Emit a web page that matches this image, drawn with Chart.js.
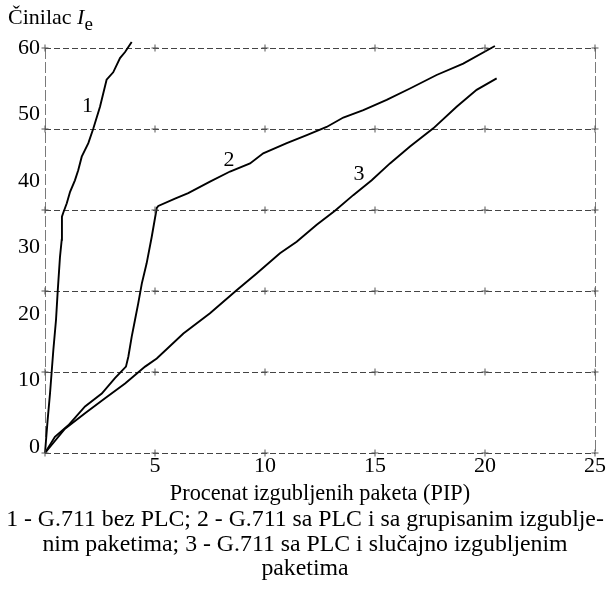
<!DOCTYPE html>
<html><head><meta charset="utf-8">
<script src="https://cdn.jsdelivr.net/npm/chart.js@4.4.1/dist/chart.umd.min.js"></script>
<style>
html,body{margin:0;padding:0;background:#fff;}
#wrap{position:relative;width:610px;height:596px;font-family:"Liberation Serif","Times New Roman",serif;color:#000;}
canvas{position:absolute;left:0;top:0;}
.t{position:absolute;font-size:22px;line-height:24px;white-space:nowrap;}
</style></head><body>
<div id="wrap">
<canvas id="c" width="610" height="596"></canvas>
<div class="t" style="left:8px;top:5px;">Činilac <i>I</i><sub style="font-size:19px;vertical-align:-6px;line-height:0">e</sub></div>
<div class="t" style="left:45px;width:550px;top:481px;text-align:center;font-size:22.3px;">Procenat izgubljenih paketa (PIP)</div>
<div class="t" style="left:0;width:610px;top:506px;text-align:center;font-size:23.8px;line-height:24.5px;">1 - G.711 bez PLC; 2 - G.711 sa PLC i sa grupisanim izgublje-<br>nim paketima; 3 - G.711 sa PLC i slučajno izgubljenim<br>paketima</div>
</div>
<script>
// Tick values
const xTicks = [0, 5, 10, 15, 20, 25];
const yTickLabels = [0, 10, 20, 30, 40, 50, 60];
const yGridValues = [0, 12, 24, 36, 48, 60];

// Curve 1 - G.711 bez PLC
const curve1X = [0, 0.12, 0.23, 0.38, 0.50, 0.58, 0.68, 0.76, 0.77, 0.83, 0.99, 1.14, 1.36, 1.51, 1.67, 1.97, 2.20, 2.50, 2.80, 3.10, 3.41, 3.64, 3.94];
const curve1Y = [0, 4.9, 8.9, 15.3, 19.7, 24.1, 29.0, 31.6, 35.0, 35.6, 37.0, 38.7, 40.4, 41.9, 43.9, 45.9, 48.1, 51.3, 55.3, 56.4, 58.5, 59.4, 60.9];

// Curve 2 - G.711 sa PLC, grupisani gubici
const curve2X = [0, 0.45, 1.06, 1.82, 2.58, 3.18, 3.68, 3.79, 3.94, 4.09, 4.24, 4.40, 4.62, 4.85, 5.08, 5.15, 5.91, 6.51, 7.50, 8.41, 9.32, 9.92, 10.99, 11.90, 12.80, 13.56, 14.47, 15.53, 16.59, 17.80, 19.01, 20.45];
const curve2Y = [0, 2.4, 4.1, 6.9, 8.8, 11.1, 12.8, 14.3, 17.2, 19.7, 22.2, 25.1, 28.1, 32.0, 36.3, 36.6, 37.7, 38.5, 40.2, 41.7, 42.9, 44.4, 45.9, 47.1, 48.3, 49.7, 50.8, 52.3, 54.0, 56.0, 57.7, 60.3];

// Curve 3 - G.711 sa PLC, slučajni gubici
const curve3X = [0, 0.91, 1.82, 2.73, 3.64, 4.55, 5.08, 6.29, 7.50, 8.71, 9.62, 10.68, 11.44, 12.35, 13.18, 14.01, 14.85, 15.68, 16.59, 17.65, 18.71, 19.62, 20.53];
const curve3Y = [0, 3.6, 5.9, 8.1, 10.3, 12.8, 14.0, 17.7, 20.7, 24.1, 26.6, 29.6, 31.3, 33.8, 35.9, 38.2, 40.4, 42.9, 45.4, 48.1, 51.3, 53.8, 55.5];

// Curve number labels
const curveLabels = ['1', '2', '3'];
const curveLabelX = [1.93, 8.36, 14.27];
const curveLabelY = [51.4, 43.4, 41.3];

const FONT = '"Liberation Serif", "Times New Roman", serif';
const toPts = (xs, ys) => xs.map((x, i) => ({x, y: ys[i]}));
const crossPts = [];
xTicks.forEach(x => yGridValues.forEach(y => crossPts.push({x, y})));

const curveStyle = {showLine: true, borderColor: '#000', borderWidth: 1.9, pointRadius: 0, tension: 0, clip: false, yAxisID: 'y'};

const labelPlugin = {
  id: 'curveLabels',
  afterDatasetsDraw(chart) {
    const {ctx, scales: {x, y}} = chart;
    ctx.save();
    ctx.font = '22px ' + FONT;
    ctx.fillStyle = '#000';
    ctx.textAlign = 'center';
    ctx.textBaseline = 'middle';
    curveLabels.forEach((t, i) => ctx.fillText(t, x.getPixelForValue(curveLabelX[i]), y.getPixelForValue(curveLabelY[i])));
    ctx.restore();
  }
};

new Chart(document.getElementById('c'), {
  type: 'scatter',
  data: {
    datasets: [
      {data: crossPts, pointStyle: 'cross', pointRadius: 3.5, borderColor: '#555', borderWidth: 1, showLine: false, clip: false, yAxisID: 'y'},
      Object.assign({data: toPts(curve1X, curve1Y)}, curveStyle),
      Object.assign({data: toPts(curve2X, curve2Y)}, curveStyle),
      Object.assign({data: toPts(curve3X, curve3Y)}, curveStyle)
    ]
  },
  options: {
    responsive: false,
    animation: false,
    events: [],
    layout: {padding: {top: 48, left: 0, right: 0, bottom: 0}},
    plugins: {legend: {display: false}, tooltip: {enabled: false}},
    scales: {
      x: {
        type: 'linear', min: 0, max: 25, position: 'bottom',
        afterBuildTicks: s => { s.ticks = xTicks.map(v => ({value: v})); },
        afterFit: s => { s.height = 143; },
        grid: {drawTicks: false, lineWidth: 1,
          color: c => (c.tick && (c.tick.value === 0 || c.tick.value === 25)) ? '#7a7a7a' : 'rgba(0,0,0,0)'},
        border: {display: false, dash: [11, 3]},
        ticks: {padding: 0, color: '#000', font: {family: FONT, size: 22}, maxRotation: 0, autoSkip: false,
          callback: v => v === 0 ? '' : String(v)}
      },
      y: {
        type: 'linear', min: 0, max: 60, position: 'right',
        afterBuildTicks: s => { s.ticks = yGridValues.map(v => ({value: v})); },
        afterFit: s => { s.width = 15; },
        grid: {drawTicks: false, color: '#444', lineWidth: 1},
        border: {display: false, dash: [6, 3]},
        ticks: {display: false}
      },
      yl: {
        type: 'linear', min: -0.9, max: 60, position: 'left',
        afterBuildTicks: s => { s.ticks = yTickLabels.map(v => ({value: v})); },
        afterFit: s => { s.width = 45; },
        grid: {display: false, drawTicks: false},
        border: {display: false},
        ticks: {padding: 5, color: '#000', font: {family: FONT, size: 22}, autoSkip: false}
      }
    }
  },
  plugins: [labelPlugin]
});
</script>
</body></html>
